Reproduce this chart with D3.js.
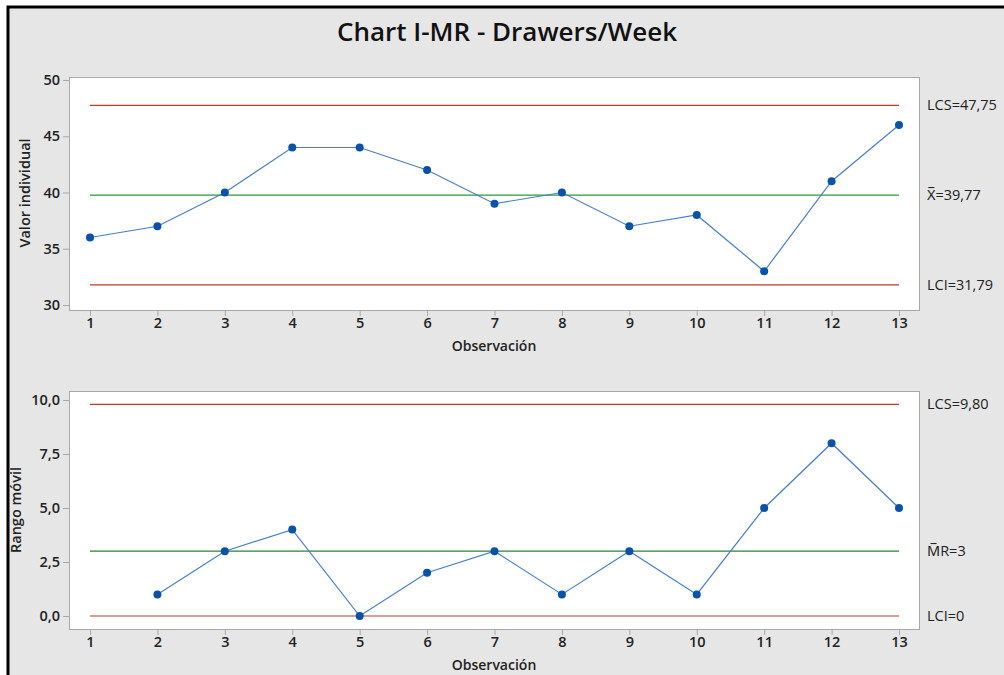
<!DOCTYPE html>
<html><head><meta charset="utf-8">
<script src="https://cdn.jsdelivr.net/npm/d3@7"></script>
<style>
html,body{margin:0;padding:0;background:#fff;}
svg{display:block;}
</style></head>
<body>
<svg id="c" width="1004" height="675"></svg>
<script>
const title = "Chart I-MR - Drawers/Week";
const observations = [1,2,3,4,5,6,7,8,9,10,11,12,13];
const individualValues = [36,37,40,44,44,42,39,40,37,38,33,41,46];
const movingRanges = [null,1,3,4,0,2,3,1,3,1,5,8,5];
const iTicks = [30,35,40,45,50];
const mrTicks = [0,2.5,5,7.5,10];
const iLimits = {ucl:47.75, center:39.77, lcl:31.79};
const mrLimits = {ucl:9.80, center:3, lcl:0};
const iLimitLabels = ["LCS=47,75","X\u0305=39,77","LCI=31,79"];
const mrLimitLabels = ["LCS=9,80","M\u0305R=3","LCI=0"];

const svg = d3.select("#c");
const FONT = "'Open Sans', 'Noto Sans', sans-serif";
const RED = "#c0392f", GREEN = "#2a9a3a", GREEN2 = "#2f7f3a", LINE = "#4a7fc4", DOT = "#0a52a8";

// frame
svg.append("rect").attr("x",8).attr("y",7).attr("width",1010).attr("height",680)
  .attr("fill","#e6e6e6").attr("stroke","#000").attr("stroke-width",3);

svg.append("text").attr("x",507).attr("y",41).attr("text-anchor","middle")
  .attr("font-family",FONT).attr("font-size",26).attr("font-weight",600)
  .attr("fill","#111").text(title);

const x = d3.scaleLinear().domain([1,13]).range([90,899]);
const L = 69, R = 919;

function panel(cfg){
  const y = d3.scaleLinear().domain(cfg.dom).range(cfg.rng);
  const g = svg.append("g");
  g.append("rect").attr("x",L+0.5).attr("y",cfg.top+0.5).attr("width",R-L).attr("height",cfg.bot-cfg.top)
    .attr("fill","#fff").attr("stroke","#a8a8a8").attr("stroke-width",1);
  // y axis
  const ya = g.append("g").attr("transform",`translate(${L},0)`)
    .call(d3.axisLeft(y).tickValues(cfg.ticks).tickSize(6).tickPadding(3).tickFormat(cfg.fmt));
  ya.select(".domain").remove();
  ya.selectAll("line").attr("stroke","#a8a8a8");
  ya.selectAll("text").attr("font-family",FONT).attr("font-size",14.5).attr("font-weight",600).attr("fill","#222");
  // x axis
  const xa = g.append("g").attr("transform",`translate(0,${cfg.bot})`)
    .call(d3.axisBottom(x).tickValues(observations).tickSize(6).tickPadding(2).tickFormat(d3.format("d")));
  xa.select(".domain").remove();
  xa.selectAll("line").attr("stroke","#a8a8a8");
  xa.selectAll("text").attr("font-family",FONT).attr("font-size",14.5).attr("font-weight",600).attr("fill","#222");
  g.append("text").attr("x",494).attr("y",cfg.bot+41).attr("text-anchor","middle")
    .attr("font-family",FONT).attr("font-size",14).attr("font-weight",600).attr("fill","#222").text("Observación");
  g.append("text").attr("transform",`translate(${cfg.ylx},${cfg.yly}) rotate(-90)`).attr("text-anchor","middle")
    .attr("font-family",FONT).attr("font-size",14.5).attr("font-weight",600).attr("fill","#222").text(cfg.ylabel);
  // limits
  const lims = [[cfg.lim.ucl,RED],[cfg.lim.center,cfg.green],[cfg.lim.lcl,RED]];
  lims.forEach(([v,c],i)=>{
    g.append("line").attr("x1",x(1)).attr("x2",x(13)).attr("y1",y(v)).attr("y2",y(v))
      .attr("stroke",c).attr("stroke-width",1.2);
    g.append("text").attr("x",927).attr("y",y(v)+5).attr("font-family",FONT).attr("font-size",14.5)
      .attr("fill","#222").text(cfg.labels[i]);
  });
  const pts = observations.map((o,i)=>({o,v:cfg.vals[i]})).filter(d=>d.v!==null);
  g.append("path").datum(pts).attr("fill","none").attr("stroke",LINE).attr("stroke-width",1.2)
    .attr("d",d3.line().x(d=>x(d.o)).y(d=>y(d.v)));
  g.selectAll("circle.p").data(pts).enter().append("circle").attr("cx",d=>x(d.o)).attr("cy",d=>y(d.v))
    .attr("r",4).attr("fill",DOT);
}

panel({dom:[30,50], rng:[305,80], top:77, bot:310, ticks:iTicks, fmt:d3.format("d"), green:GREEN,
  lim:iLimits, labels:iLimitLabels, vals:individualValues, ylabel:"Valor individual", ylx:30, yly:193});
panel({dom:[0,10], rng:[616,400], top:391, bot:629, ticks:mrTicks, fmt:d=>d3.format(".1f")(d).replace(".",","), green:GREEN2,
  lim:mrLimits, labels:mrLimitLabels, vals:movingRanges, ylabel:"Rango móvil", ylx:21, yly:510});
</script>
</body></html>
